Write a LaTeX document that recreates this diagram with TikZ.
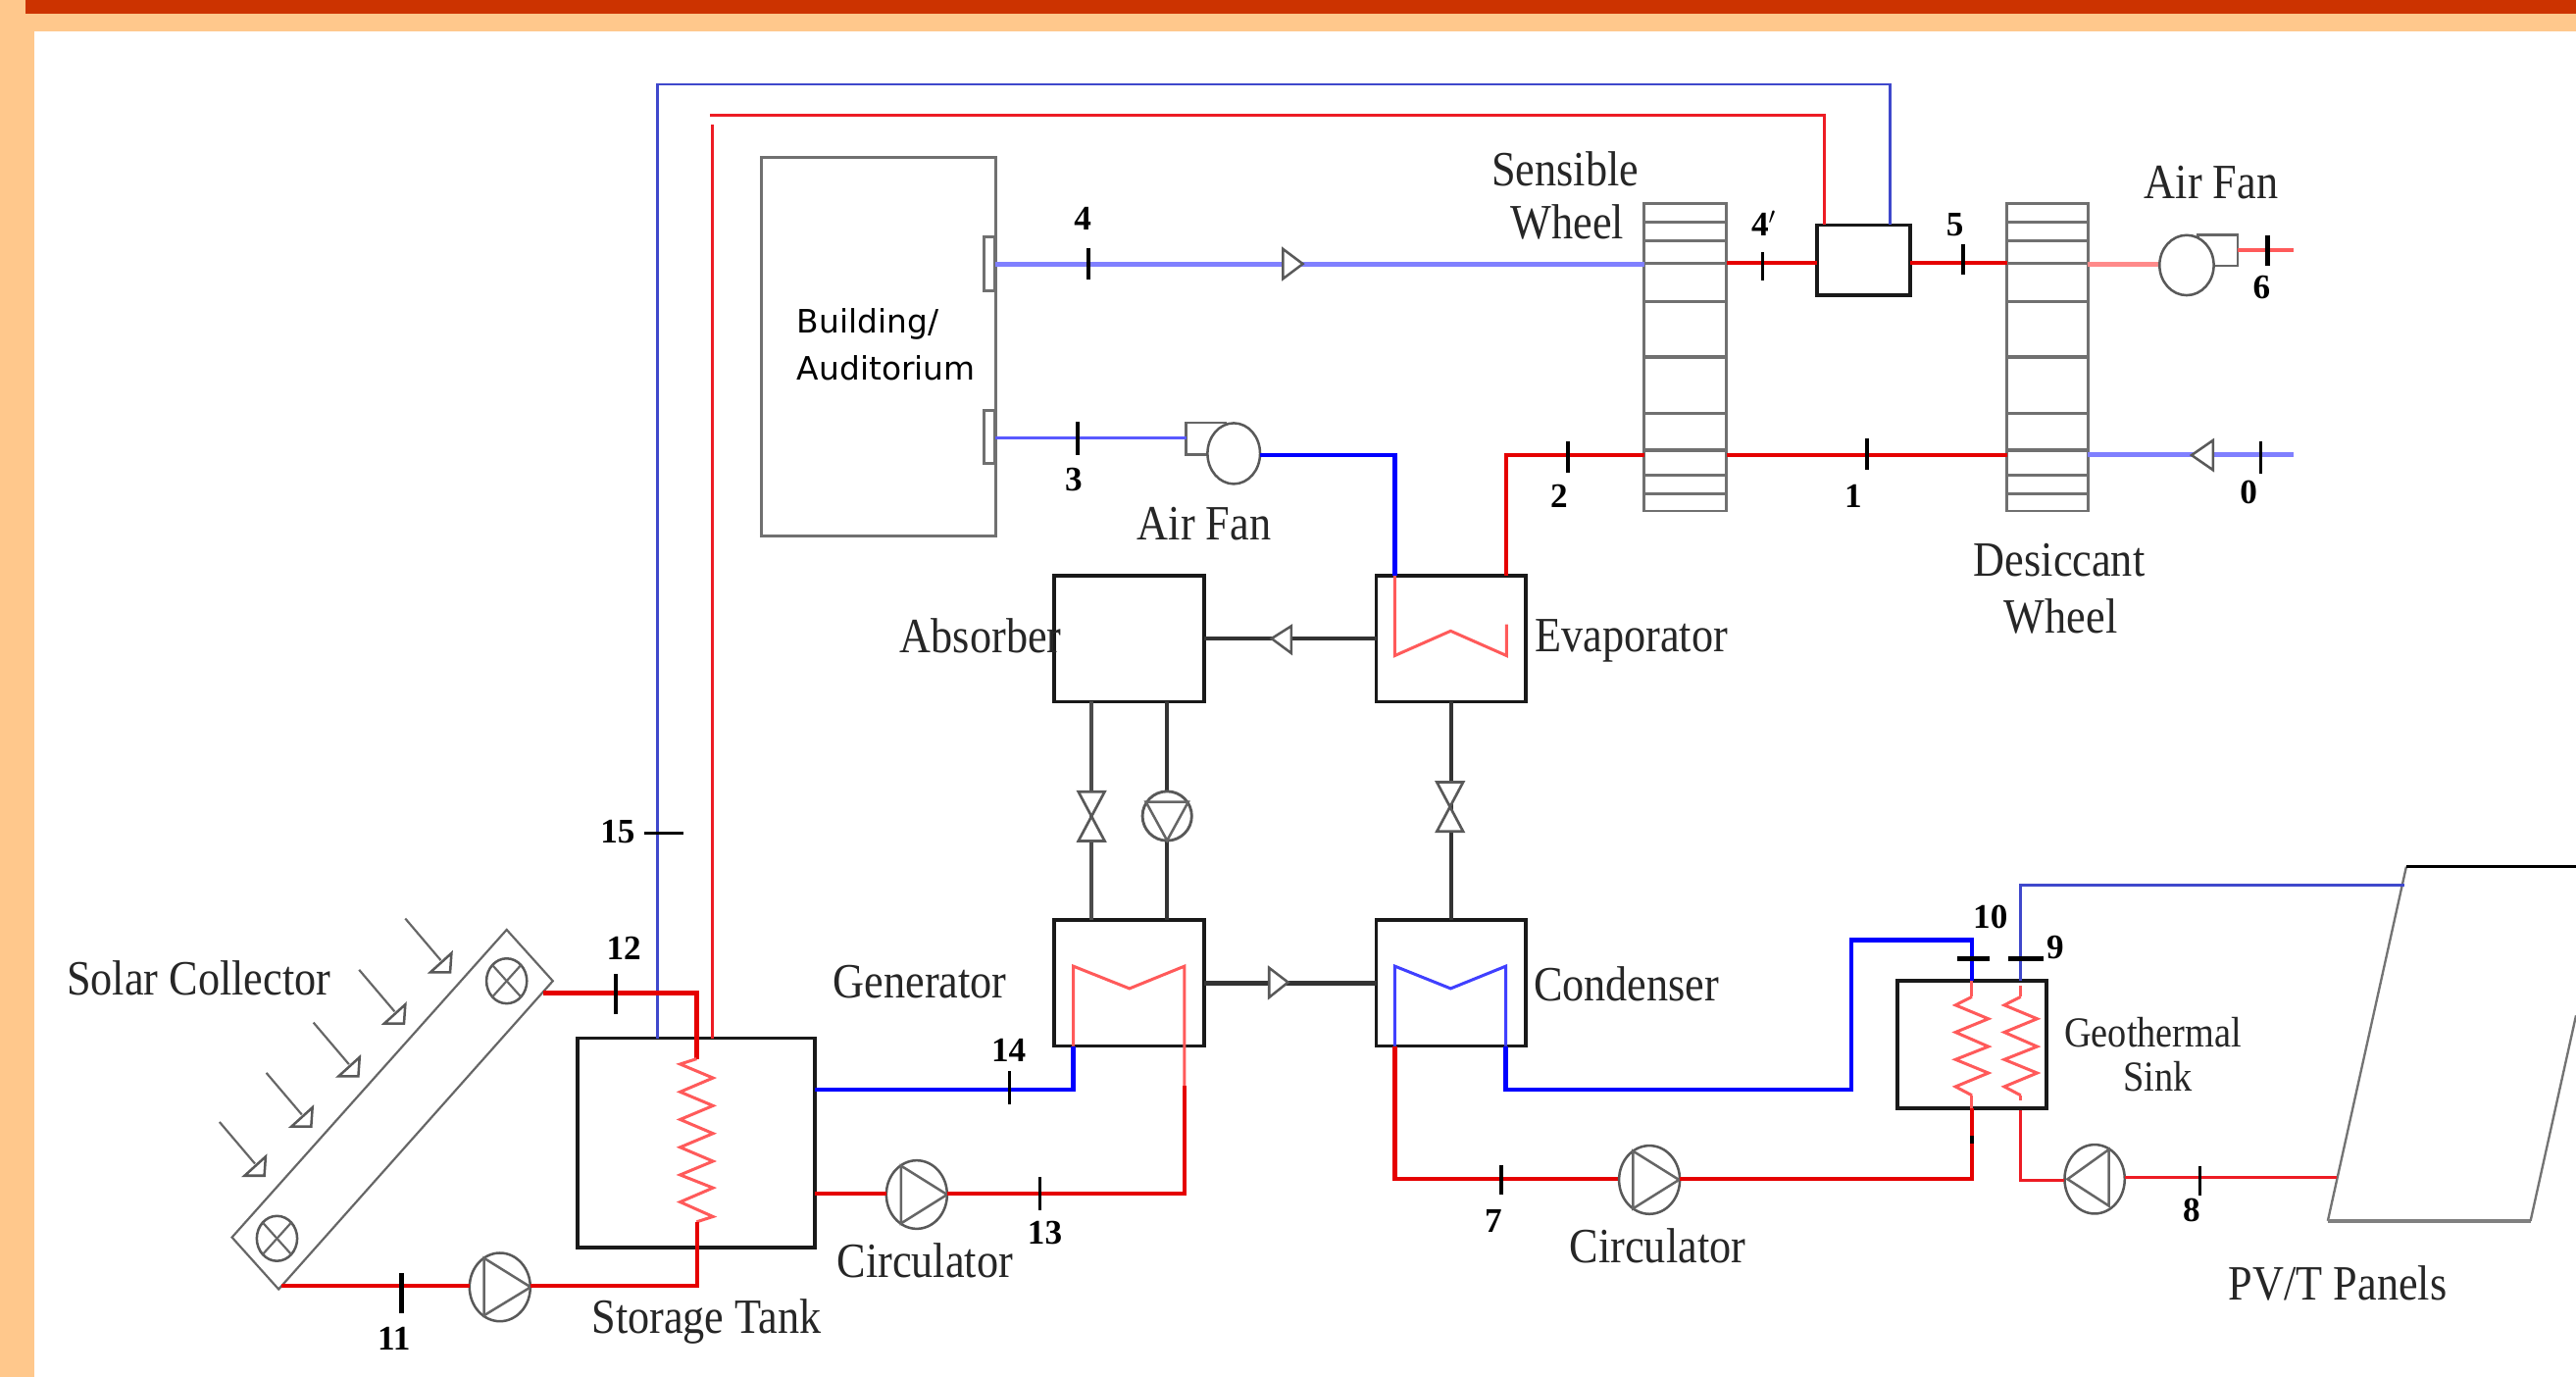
\documentclass[tikz,border=0pt]{standalone}
\usepackage{fontspec}
\usepackage{graphicx}
\setmainfont{Liberation Serif}
\newfontfamily\bldgfont{DejaVu Sans}
\usetikzlibrary{shapes.geometric}
\definecolor{pageorange}{HTML}{FFC88C}
\definecolor{barred}{HTML}{CC3300}
\definecolor{thinblue}{HTML}{3F48CC}
\definecolor{thinred}{HTML}{ED1C24}
\definecolor{softblue}{HTML}{8080FF}
\definecolor{softred}{HTML}{FF5A5A}
\definecolor{paleRed}{HTML}{FF8A8A}
\definecolor{wgray}{HTML}{707070}
\newcommand{\cnd}[1]{\scalebox{.88}[1]{#1}}
\newcommand{\bx}[6]{%
  \pgfmathsetmacro\bxw{#5-#3}\pgfmathsetmacro\bxh{#6-#4}%
  \pgfmathsetmacro\bxx{(#3+#5)/2}\pgfmathsetmacro\bxy{(#4+#6)/2}%
  \node[#2,minimum width=\bxw pt,minimum height=\bxh pt] (#1) at (\bxx,\bxy) {};}
\tikzset{
  box/.style={draw=black!90,line width=2.2pt,rectangle,inner sep=0pt,outer sep=0pt},
  graybox/.style={draw=wgray,line width=1.7pt,rectangle,inner sep=0pt,outer sep=0pt},
  round/.style={draw=black!65,line width=1.5pt,fill=white,ellipse,inner sep=0pt,outer sep=0pt},
  redthin/.style={draw=thinred,line width=1.8pt},
  bluethin/.style={draw=thinblue,line width=1.7pt},
  redmain/.style={draw=red!90!black,line width=2.5pt},
  bluemain/.style={draw=blue,line width=2.6pt},
  bluesoft/.style={draw=softblue,line width=3pt},
  redsoft/.style={draw=softred,line width=1.8pt,line join=miter},
  redpale/.style={draw=paleRed,line width=3.4pt},
  fluid/.style={draw=black!80,line width=2.2pt},
  tick/.style={draw=black,line width=2.2pt},
  tickbold/.style={draw=black,line width=3pt},
  slat/.style={draw=wgray,line width=2pt},
  hollow/.style={draw=black!65,line width=1.5pt,fill=white,line join=miter},
  thinshape/.style={draw=black!60,line width=1.3pt},
  lab/.style={font=\fontsize{30}{32}\selectfont,inner sep=0pt,text=black!85},
  labs/.style={font=\fontsize{26}{28}\selectfont,inner sep=0pt,text=black!85},
  num/.style={font=\fontsize{21}{23}\selectfont\bfseries,inner sep=0pt},
  sans/.style={font=\fontsize{19.6}{22}\selectfont\bldgfont,inner sep=0pt,anchor=west},
}
\begin{document}
\begin{tikzpicture}[x=1pt,y=-1pt]
\useasboundingbox (0,0) rectangle (1568,838);
% page frame
\fill[pageorange] (0,0) rectangle (1568,838);
\fill[white] (21,19) rectangle (1568,838);
\fill[barred] (15.5,0) rectangle (1568,8.4);

% main boxes
\bx{tank}{box}{351.5}{631.8}{495.8}{759.4}
\bx{absorber}{box}{641.7}{350.5}{733}{427}
\bx{evap}{box}{837.8}{350.5}{928.6}{427}
\bx{gen}{box}{641.7}{560}{733}{636.6}
\bx{cond}{box}{837.8}{560}{928.6}{636.6}
\bx{sink}{box}{1155}{597}{1245.8}{674.5}
\bx{hx}{box}{1106}{136.9}{1162.6}{179.7}
\bx{building}{graybox}{463.5}{96}{606}{326}
\bx{portA}{graybox}{598.8}{144}{605.5}{177}
\bx{portB}{graybox}{598.8}{250}{605.5}{282}
\bx{swheel}{graybox}{1000.8}{124}{1051}{311}
\bx{dwheel}{graybox}{1221.5}{124}{1271}{311}
\foreach \w in {swheel,dwheel}
  \foreach \y in {135,146.5,160.2,183.7,217.3,251.6,273.9,289.3,300.7}
    \draw[slat] (\w.west |- 0,\y) -- (\w.east |- 0,\y);

% solar collector
\draw[thinshape,line join=miter] (308.4,565.8) -- (336.5,597) -- (169.6,784.6) -- (141.2,753) -- cycle;
\foreach \cx/\cy/\nm in {308.4/597/cA,168.6/753.7/cB}{
  \node[round,minimum width=24.6pt,minimum height=27.4pt] (\nm) at (\cx,\cy) {};
  \draw[thinshape] (\nm.north west) -- (\nm.south east);
  \draw[thinshape] (\nm.north east) -- (\nm.south west);
}
\foreach \sx/\sy in {246.7/559,218.6/590.2,190.8/622.3,162.1/652.9,133.6/682.8}{
  \draw[thinshape] (\sx,\sy) -- ++(21.6,25.4);
  \draw[hollow] (\sx+28.1,\sy+21.1) -- (\sx+15.3,\sy+32.7) -- (\sx+27.3,\sy+32.7) -- cycle;
}

% named pipe ends
\coordinate (lA) at (400,631.8);
\coordinate (lB) at (433.4,631.8);
\coordinate (hxR) at (1110.3,136.9);
\coordinate (hxB) at (1150.6,136.9);

% long thin loops
\draw[bluethin] (lA) -- (400,51.3) -- (1150.6,51.3) -- (hxB);
\draw[redthin] (lB) -- (433.4,75.8);
\draw[redthin] (432.2,70.4) -- (1110.3,70.4) -- (hxR);

% air lines
\coordinate (bA) at (606,160.6);
\coordinate (swW) at (1000.8,160.6);
\draw[bluesoft] (bA) -- (swW);
\coordinate (bB) at (606,266.5);
\node[rectangle,draw=black!60,line width=1.5pt,inner sep=0pt,outer sep=0pt,minimum width=24pt,minimum height=19.2pt] (fanAbox) at (734,266.9) {};
\node[round,minimum width=32pt,minimum height=37pt] (fanA) at (751,276) {};
\draw[draw=blue!65!white,line width=1.8pt] (bB) -- (bB -| fanAbox.west);
% evaporator air
\draw[bluemain] (fanA.east |- 0,277) -- (849,277) -- (849,350.5);
\draw[redmain] (917,350.5) -- (917,277) -- (swheel.west |- 0,277);
\draw[redmain] (swheel.east |- 0,277) -- (dwheel.west |- 0,277);
\draw[redmain] (swheel.east |- 0,160) -- (hx.west |- 0,160);
\draw[redmain] (hx.east |- 0,160) -- (dwheel.west |- 0,160);
\draw[redpale] (dwheel.east |- 0,160.8) -- (1316,160.8);
\node[rectangle,draw=black!60,line width=1.5pt,inner sep=0pt,outer sep=0pt,minimum width=24pt,minimum height=18.8pt] (fanBbox) at (1350,152.4) {};
\node[round,minimum width=33pt,minimum height=36.6pt] (fanB) at (1331,161.4) {};
\coordinate (outSix) at (1396,152.2);
\draw[draw=softred,line width=2pt] (fanBbox.east |- outSix) -- (outSix);
\coordinate (inZero) at (1396,276.7);
\draw[bluesoft] (dwheel.east |- inZero) -- (inZero);

% heat exchanger coils in evaporator / generator / condenser
\draw[redsoft] (849,350.5) -- (849,399) -- (883,384) -- (917,399) -- (917,380);
\draw[redsoft] (653.3,636.6) -- (653.3,588) -- (687.5,601.6) -- (721,588) -- (721,661);
\draw[draw=blue!75!white,line width=1.8pt] (849,636.6) -- (849,588) -- (883,601.6) -- (916.6,588) -- (916.6,636.6);

% fluid connections
\draw[fluid] (evap.west) -- (absorber.east);
\draw[fluid,line width=2.6pt] (gen.east) -- (cond.west);
\draw[fluid] (cond.north) -- (evap.south);
\coordinate (aL) at (664.4,427); \coordinate (gL) at (664.4,560);
\coordinate (aR) at (710.4,427); \coordinate (gR) at (710.4,560);
\draw[fluid,line width=2.8pt,draw=black!70] (aL) -- (gL);
\draw[fluid] (aR) -- (gR);
% direction triangles
\draw[hollow] (774,388.6) -- (786,381) -- (786,397.5) -- cycle;
\draw[hollow] (784,597.8) -- (772.5,589) -- (772.5,607) -- cycle;
\draw[hollow] (793,160.6) -- (781,151.6) -- (781,169.6) -- cycle;
\draw[hollow] (1334,277) -- (1347,268) -- (1347,286) -- cycle;
% valves
\foreach \vx/\vy in {664.4/496.8,882.6/491}{
  \draw[hollow,line width=1.6pt] (\vx-8,\vy-15) -- (\vx+8,\vy-15) -- (\vx-8,\vy+15) -- (\vx+8,\vy+15) -- cycle;
}
% solution pump
\node[round,line width=1.7pt,minimum width=30pt,minimum height=30pt] (pumpS) at (710.4,496.6) {};
\draw[thinshape,line width=1.5pt] (697.5,488) -- (723.3,488) -- (710.4,511.5) -- cycle;

% solar loop
\coordinate (colR) at (330.6,604.3);
\draw[redmain,line width=2.8pt] (colR) -- (424.2,604.3) -- (424.2,644.4);
\draw[redsoft] (424,644.4) -- (414,647.6) -- (434,656) -- (414,664.5) -- (434,672.9) -- (414,681.3) -- (434,689.8) -- (414,698.2) -- (434,706.7) -- (414,715) -- (434,722.9) -- (414,731.5) -- (434,740.4) -- (424,743.6);
\node[round,minimum width=37pt,minimum height=41.6pt] (pumpA) at (304.3,783.3) {};
\draw[thinshape,line width=1.5pt] (323,783.3) -- (294.7,765.7) -- (294.7,800.5) -- cycle;
\coordinate (colB) at (171.3,782.5);
\draw[redmain] (424.2,743.6) -- (424.2,782.5) -- (pumpA.east |- colB);
\draw[redmain] (pumpA.west |- colB) -- (colB);

% generator loop
\coordinate (tR) at (495.8,663);
\draw[bluemain] (tR) -- (653.3,663) -- (653.3,636.6);
\node[round,minimum width=37pt,minimum height=41.6pt] (pumpB) at (558,727) {};
\draw[thinshape,line width=1.5pt] (576.5,727) -- (548.5,709.5) -- (548.5,744.5) -- cycle;
\coordinate (tS) at (495.8,726.5);
\draw[redmain] (tS) -- (pumpB.west |- tS);
\draw[redmain] (pumpB.east |- tS) -- (721,726.5) -- (721,661);

% condenser loop
\draw[redmain] (849,636.6) -- (849,717.5) -- (985,717.5);
\node[round,minimum width=37pt,minimum height=41.6pt] (pumpC) at (1004,718) {};
\draw[thinshape,line width=1.5pt] (1022,718) -- (994,700.5) -- (994,735.5) -- cycle;
\draw[redmain] (pumpC.east |- 0,717.5) -- (1200.3,717.5) -- (1200.3,674.5);
\draw[bluemain] (916.6,636.6) -- (916.6,663) -- (1127,663) -- (1127,572) -- (1200.3,572) -- (1200.3,597);

% geothermal sink coils
\foreach \cx/\a in {1200.3/606.6,1230/606.6}{
  \draw[redsoft] (\cx,\a) -- (\cx-10,611.7) -- (\cx+10,620) -- (\cx-10,628.2) -- (\cx+10,636.9) -- (\cx-10,644.8) -- (\cx+10,653) -- (\cx-10,661.3) -- (\cx,666.6);
}
\draw[redsoft] (1200.3,597) -- (1200.3,606.6);
\draw[redsoft] (1230,600) -- (1230,606.6);
\draw[redsoft] (1200.3,666.6) -- (1200.3,674.5);
\draw[redsoft] (1230,666.6) -- (1230,669.7);
\fill[black] (1199,691) rectangle (1201.6,696);

% PV panel
\draw[draw=black!55,line width=1.4pt] (1464.7,527.4) -- (1416.9,743);
\draw[draw=black,line width=2pt] (1464.7,527.4) -- (1568,527.4);
\draw[draw=black!50,line width=2pt] (1416.9,743) -- (1540.3,743);
\draw[draw=black!55,line width=1.4pt] (1540.3,743) -- (1568,618);
\coordinate (pvT) at (1463.7,538.5);
\coordinate (pvB) at (1422.2,716.7);
\coordinate (skT) at (1230,597);
\coordinate (skB) at (1230,675.8);
\draw[bluethin] (skT) -- (1230,538.5) -- (pvT);
\node[round,minimum width=36.6pt,minimum height=42pt] (pumpD) at (1275,717.6) {};
\draw[thinshape,line width=1.5pt] (1258.5,717.6) -- (1283.7,699.5) -- (1283.7,733.9) -- cycle;
\draw[redthin] (skB) -- (1230,718.3) -- (pumpD.west |- 0,718.3);
\draw[redthin] (pumpD.east |- pvB) -- (pvB);

% ticks
\draw[tick] (662.7,151) -- (662.7,170.4);
\draw[tick] (656,256.7) -- (656,277);
\draw[tick] (1072.8,153.4) -- (1072.8,171);
\draw[tick] (1195,148.7) -- (1195,167);
\draw[tickbold] (1380,143) -- (1380,161.8);
\draw[tick] (954.2,268.7) -- (954.2,287.7);
\draw[tick] (1136.6,267) -- (1136.6,286);
\draw[tick] (1376,268.7) -- (1376,288);
\draw[tick] (375,592.7) -- (375,617);
\draw[tickbold] (244.6,775) -- (244.6,799);
\draw[tick] (614.5,652) -- (614.5,672);
\draw[tick] (633,716.5) -- (633,736.5);
\draw[tick] (914,709) -- (914,727);
\draw[tick] (1339,709.7) -- (1339,727.6);
\draw[tickbold] (1191.6,583.7) -- (1211,583.7);
\draw[tickbold] (1222.6,583.7) -- (1244,583.7);
\draw[draw=black,line width=1.3pt] (392,507) -- (416,507);

% numbers
\node[num] (n0) at (1368.7,299.5) {0};
\node[num] (n1) at (1128,302) {1};
\node[num] (n2) at (949,301.8) {2};
\node[num] (n3) at (653.5,292) {3};
\node[num] (n4) at (659,133) {4};
\node[num] (n4p) at (1073.5,136) {4$'$};
\node[num] (n5) at (1190,136.9) {5};
\node[num] (n6) at (1376.7,175) {6};
\node[num] (n7) at (909,743) {7};
\node[num] (n8) at (1334,736.6) {8};
\node[num] (n9) at (1251,576.6) {9};
\node[num] (n10) at (1211.5,558) {10};
\node[num] (n11) at (239.8,814.8) {11};
\node[num] (n12) at (379.7,577) {12};
\node[num] (n13) at (636,750) {13};
\node[num] (n14) at (614,639) {14};
\node[num] (n15) at (376,506) {15};

% labels
\node[sans] (tB1) at (485,197) {Building/};
\node[sans] (tB2) at (485,224) {Auditorium};
\node[lab] (tSens) at (952.7,102.7) {\cnd{Sensible}};
\node[lab] (tSensW) at (954,135) {\cnd{Wheel}};
\node[lab] (tFanR) at (1346,111) {\cnd{Air Fan}};
\node[lab] (tFanL) at (733,319) {\cnd{Air Fan}};
\node[lab] (tDes) at (1253.5,340.6) {\cnd{Desiccant}};
\node[lab] (tDesW) at (1254.4,375) {\cnd{Wheel}};
\node[lab] (tEvap) at (993,390) {\cnd{Evaporator}};
\node[lab] (tAbs) at (597,387) {\cnd{Absorber}};
\node[lab] (tGen) at (560,597.5) {\cnd{Generator}};
\node[lab] (tCond) at (990,599) {\cnd{Condenser}};
\node[lab] (tSolar) at (121,595.5) {\cnd{Solar Collector}};
\node[lab] (tTank) at (430,804.5) {\cnd{Storage Tank}};
\node[lab] (tCircA) at (563,767) {\cnd{Circulator}};
\node[lab] (tCircB) at (1009,758) {\cnd{Circulator}};
\node[lab] (tPV) at (1423,781) {\cnd{PV/T Panels}};
\node[labs] (tGeo) at (1310.5,628) {\cnd{Geothermal}};
\node[labs] (tSink) at (1313.6,655) {\cnd{Sink}};
\end{tikzpicture}
\end{document}
